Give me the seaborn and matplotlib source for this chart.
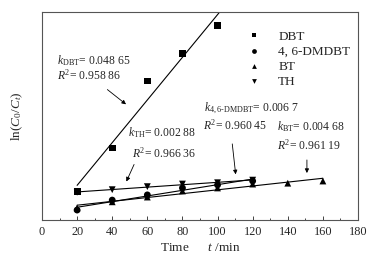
import numpy as np
import pandas as pd
import seaborn as sns
import matplotlib.pyplot as plt

sns.set_style("white")
plt.rcParams['font.family'] = ['Liberation Serif', 'DejaVu Serif']
plt.rcParams['mathtext.fontset'] = 'custom'
plt.rcParams['mathtext.rm'] = 'Liberation Serif'
plt.rcParams['mathtext.it'] = 'Liberation Serif:italic'

# data (y in ln(C0/Ct) units, axis has no labels)
t_dbt = [20, 40, 60, 80, 100]
y_dbt = [0.65, 1.66, 3.21, 3.85, 4.48]
t_dmdbt = [20, 40, 60, 80, 100, 120]
y_dmdbt = [0.23, 0.46, 0.58, 0.74, 0.81, 0.90]
t_bt = [20, 40, 60, 80, 100, 120, 140, 160]
y_bt = [0.28, 0.42, 0.53, 0.67, 0.74, 0.83, 0.85, 0.90]
t_th = [20, 40, 60, 80, 100, 120]
y_th = [0.64, 0.70, 0.77, 0.83, 0.86, 0.92]

names = ['DBT', '4, 6-DMDBT', 'BT', 'TH']
fit_end = [106, 120, 160, 120]

frames = []
for name, t, y in zip(names, [t_dbt, t_dmdbt, t_bt, t_th], [y_dbt, y_dmdbt, y_bt, y_th]):
    frames.append(pd.DataFrame({'t': t, 'y': y, 'compound': name}))
df = pd.concat(frames, ignore_index=True)

fig, ax = plt.subplots(figsize=(3.73, 2.60), dpi=100)
fig.subplots_adjust(left=0.1126, right=0.9598, bottom=0.1538, top=0.9538)

# fitted lines
for name, end in zip(names, fit_end):
    sub = df[df['compound'] == name]
    k, b = np.polyfit(sub['t'], sub['y'], 1)
    xs = np.array([20, end])
    ax.plot(xs, k * xs + b, color='black', lw=0.8, zorder=2)

sns.scatterplot(data=df, x='t', y='y', style='compound',
                markers={'DBT': 's', '4, 6-DMDBT': 'o', 'BT': '^', 'TH': 'v'},
                color='black', s=24, linewidth=0, ax=ax, zorder=3)

handles, labels = ax.get_legend_handles_labels()
ax.legend(handles, labels, loc='upper left', bbox_to_anchor=(0.612, 0.935),
          frameon=False, fontsize=9.5, handletextpad=0.85, labelspacing=0.22,
          markerscale=0.7, borderaxespad=0)

ax.set_xlim(0, 180)
ax.set_ylim(0, 4.8)
ax.set_xticks(range(0, 181, 20))
ax.set_xticks(range(10, 180, 20), minor=True)
ax.set_yticks([])
ax.tick_params(axis='x', which='major', direction='in', length=3, width=0.6,
               labelsize=8.8, pad=4, bottom=True)
ax.tick_params(axis='x', which='minor', direction='in', length=1.5, width=0.6,
               bottom=True)
for s in ax.spines.values():
    s.set_color('#555555')
    s.set_linewidth(0.8)

ax.set_xlabel(r'Time      $t$ /min', fontsize=9.5, labelpad=3)
ax.set_ylabel(r'ln($C_0$/$C_t$)', fontsize=9.5, labelpad=12)

fs = 8.4
arrow = dict(arrowstyle='-|>', color='black', lw=0.6, mutation_scale=6)

ax.text(8.5, 3.69, r'$k_{\mathrm{DBT}}$= 0.048 65', fontsize=fs, va='center')
ax.text(8.5, 3.35, r'$R^2$= 0.958 86', fontsize=fs, va='center')
ax.annotate('', xy=(49.1, 2.63), xytext=(36.0, 3.05), arrowprops=arrow)

ax.text(49.1, 2.01, r'$k_{\mathrm{TH}}$= 0.002 88', fontsize=fs, va='center')
ax.text(51.4, 1.55, r'$R^2$= 0.966 36', fontsize=fs, va='center')
ax.annotate('', xy=(47.4, 0.83), xytext=(53.1, 1.34), arrowprops=arrow)

ax.text(92.3, 2.58, r'$k_{\mathrm{4,6\text{-}DMDBT}}$= 0.006 7', fontsize=fs, va='center')
ax.text(91.7, 2.19, r'$R^2$= 0.960 45', fontsize=fs, va='center')
ax.annotate('', xy=(110.5, 0.99), xytext=(108.2, 1.82), arrowprops=arrow)

ax.text(133.8, 2.15, r'$k_{\mathrm{BT}}$= 0.004 68', fontsize=fs, va='center')
ax.text(133.8, 1.73, r'$R^2$= 0.961 19', fontsize=fs, va='center')
ax.annotate('', xy=(150.9, 1.02), xytext=(150.9, 1.45), arrowprops=arrow)

plt.savefig('out.png', dpi=100)
plt.close()
